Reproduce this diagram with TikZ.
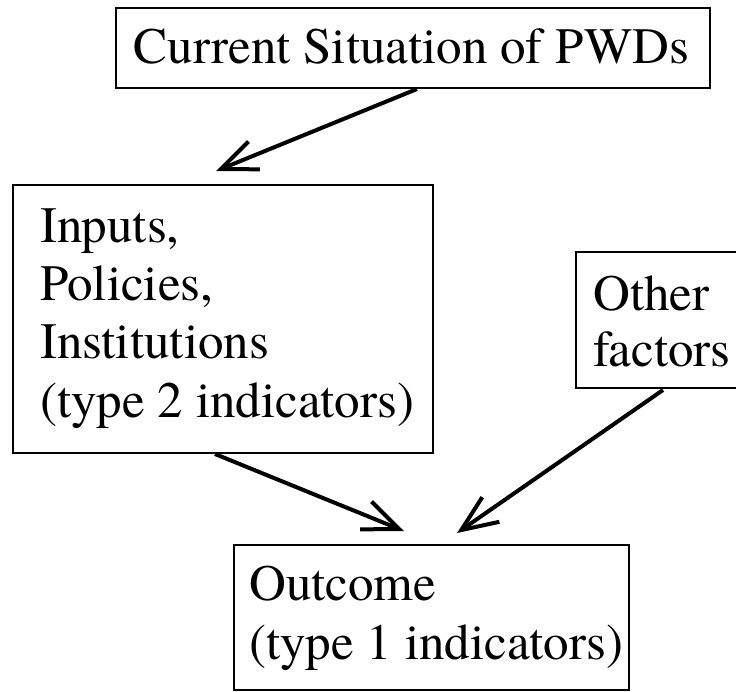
\documentclass[tikz,border=0pt]{standalone}
\usepackage{fontspec}
\setmainfont{texgyretermes}[Extension=.otf, UprightFont=*-regular, BoldFont=*-bold, ItalicFont=*-italic, BoldItalicFont=*-bolditalic]
\usetikzlibrary{arrows.meta,calc}
\begin{document}
\begin{tikzpicture}[x=1pt,y=-1pt,
  box/.style={draw, line width=2pt, rectangle, inner sep=0pt, anchor=north west},
  txt/.style={anchor=base west, inner sep=0pt, font=\fontsize{51}{58}\selectfont},
  conn/.style={line width=4pt, -{Straight Barb[length=36pt,width=30pt]}}]
\useasboundingbox (0,0) rectangle (736,691);
\clip (0,0) rectangle (736,691);
% boxes
\node[box, minimum width=594pt, minimum height=80pt] (b1) at (115,7) {};
\node[box, minimum width=420pt, minimum height=268pt] (b2) at (12,184) {};
\node[box, minimum width=170pt, minimum height=136pt] (b3) at (575,251) {};
\node[box, minimum width=395pt, minimum height=145pt] (b4) at (233,544) {};
% texts
\node[txt] (t1) at (133.5,63) {Current Situation of PWDs};
\node[txt] (t2a) at (40,242) {Inputs,};
\node[txt] (t2b) at (40,300) {Policies,};
\node[txt] (t2c) at (40,358) {Institutions};
\node[txt] (t2d) at (40,417) {(type 2 indicators)};
\node[txt] (t3a) at (593,310) {Other};
\node[txt] (t3b) at (593,366) {factors};
\node[txt] (t4a) at (249,600) {Outcome};
\node[txt] (t4b) at (249,659) {(type 1 indicators)};
% connector ends
\coordinate (a1s) at ($(b1.south west)+(302,0)$);
\coordinate (a1e) at ($(b2.north west)+(204,-13)$);
\coordinate (a2s) at ($(b2.south west)+(203,0)$);
\coordinate (a2e) at ($(b4.north west)+(171,-13)$);
\coordinate (a3s) at ($(b3.south west)+(88,1)$);
\coordinate (a3e) at ($(b4.north west)+(224,-11)$);
\draw[conn] (a1s) -- (a1e);
\draw[conn] (a2s) -- (a2e);
\draw[conn] (a3s) -- (a3e);
\end{tikzpicture}
\end{document}
